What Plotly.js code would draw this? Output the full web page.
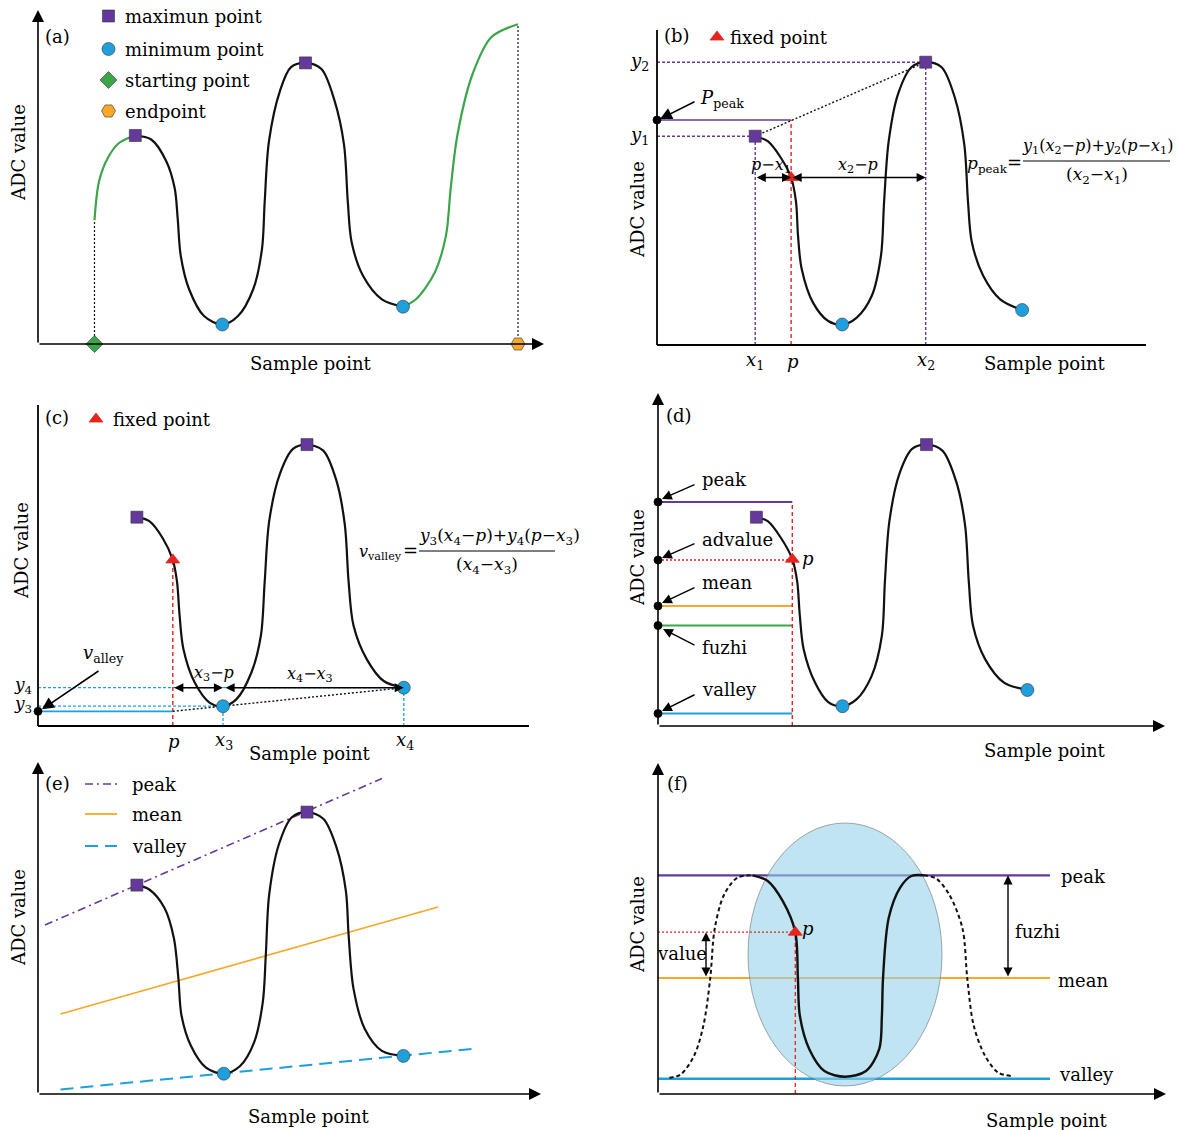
<!DOCTYPE html>
<html><head><meta charset="utf-8">
<script src="https://cdn.plot.ly/plotly-3.0.1.min.js"></script>
<style>html,body{margin:0;padding:0;background:#fff}</style>
</head><body>
<div id="chart" style="width:1179px;height:1130px"></div>
<script>
// ===== DATA (panel units: sample offset right of the y axis, ADC offset above the x axis) =====
// (a)
const aRiseX = [56.5, 61, 69.8, 81, 97.3];
const aRiseY = [123.8, 162.4, 186, 201, 208.5];
const aWaveX = [97.3,113.2,128.4,136.7,139.7,142.7,151,166,184.3,200,215.3,224,226.7,231,242,253,267.5,283.4,296.6,306,309.8,313.6,325,343.9,365];
const aWaveY = [208.5,204.5,182.6,155.7,125.4,88.5,55,28,19.5,28,55,95.2,142.3,203,253.2,276.8,281.1,275,243.1,199.4,142.3,102,68.3,44.7,37.3];
const aTailX = [365,377.9,396.8,408,412.7,419.5,434.6,453.5,480];
const aTailY = [37.3,44.7,71.6,108.6,155.7,209.5,270,307,319.8];
const aMaxX = [97.3, 267.5], aMaxY = [208.5, 281.1];
const aMinX = [184.3, 365], aMinY = [19.5, 37.3];
const aStartX = 56.5, aStartY = 123.8, aEndX = 480, aEndY = 319.8;
const aLegend = ['maximun point', 'minimum point', 'starting point', 'endpoint'];

// (b)
const bWaveX = [98.2,110.7,124,134.1,139,141,144.7,156,171.2,185.2,199.5,214.7,224,227.1,231.7,241,254.4,268.7,284.6,297.8,307.3,311,314.8,326.2,343.2,365.1];
const bWaveY = [208.8,203.8,187,167.5,143.3,109.6,76,42.4,24,20.5,27.2,49,89.5,143.3,203.8,250.9,277.8,282.8,277.8,247.5,200.4,143.3,103,69.3,45.7,35];
const bX1 = 98.2, bY1 = 208.8, bX2 = 268.7, bY2 = 282.8;
const bP = 134.1, bPy = 167.5, bPeak = 225;
const bMinX = [185.2, 365.1], bMinY = [20.5, 35];

// (c)
const cWaveX = [98.9,111.3,124.6,134.8,139,141.6,145.4,156.7,171.8,185,198.3,213.4,222.9,226.7,231.2,241.8,255,269,285.3,298.5,306.8,310.6,315.5,328.7,345.7,365.8];
const cWaveY = [208.8,204.8,188,166.1,144.3,110.6,77,43.4,23.2,19.8,26.6,53.5,90.5,144.3,204.8,251.9,277.1,281.4,275.4,245.1,201.4,144.3,100.5,66.9,45,38.3];
const cX3 = 185, cY3 = 19.8, cX4 = 365.8, cY4 = 38.3;
const cP = 134.8, cPy = 166.1, cValley = 14.7;
const cMaxX = [98.9, 269], cMaxY = [208.8, 281.4];

// (d)
const dWaveX = [98.4,109.7,123,134.3,139.2,141.8,145.6,157,170.2,184.5,198.5,213.7,223.9,226.9,231.4,241.3,254.1,268.5,284.4,298,307,310.8,315,327.1,346,369.4];
const dWaveY = [208.8,204.8,188,166.8,144.3,110.6,77,43.4,23.9,19.8,26.6,50.1,90.5,144.3,204.8,251.9,277.1,281.4,275.4,245.1,201.4,144.3,100.5,66.9,43.4,36];
const dP = 134.3, dPy = 166.8;
const dLevelNames = ['peak', 'advalue', 'mean', 'fuzhi', 'valley'];
const dLevelY = [224, 166, 120, 100.5, 12.5];
const dMaxX = [98.4, 268.5], dMaxY = [208.8, 281.4];
const dMinX = [184.5, 369.4], dMinY = [19.8, 36];

// (e)
const eWaveX = [98.9,111.3,126.5,135.9,140.4,143.5,152.9,168,185.8,202.1,216.1,224.8,227.8,231.2,241,253.9,269,285.3,298.5,307.9,310.6,315.5,326.8,343.9,365.4];
const eWaveY = [208.9,204.5,186,155.8,115.4,78.5,48.2,26.3,20.3,28,51.6,91.9,139,199.5,250,276.8,281.9,275.2,246.6,202.9,159.2,105.4,65,43.1,38.1];
const eMaxX = [98.9, 269], eMaxY = [208.9, 281.9];
const eMinX = [185.8, 365.4], eMinY = [20.3, 38.1];
const ePeakX = [7, 344], ePeakY = [169, 315.5];
const eMeanX = [22.5, 400], eMeanY = [80, 187];
const eValleyX = [22.5, 438], eValleyY = [4.5, 45.5];
const eLegend = ['peak', 'mean', 'valley'];

// (f)
const fLeftX = [11.4,22.7,36,45.4,52.2,56.8,66.2,79.4,94.6];
const fLeftY = [16.2,19.6,38.1,68.4,115.4,165.9,199.5,216.3,218.7];
const fMainX = [94.6,109.7,124.8,137.3,139.9,141.8,151.3,166.4,187.2,208,221.2,223.9,225,230.7,242,253.4,265.8];
const fMainY = [218.7,213,192.8,161.8,115.4,78.5,44.8,23,17.3,23,44.8,78.5,115.4,176,206.2,218,218.7];
const fRightX = [265.8,278,291.2,304.4,309.3,315.7,327.1,340.3,353.5];
const fRightY = [218.7,215.6,199.5,165.9,115.4,68.4,38.1,21.3,18];
const fPeak = 218.7, fMean = 116, fValley = 15.2, fLineEnd = 392;
const fPx = 137.3, fPy = 161.8;
const fZone = {cx: 187, cy: 139.5, rx: 97, ry: 131.5};

// ===== STYLE / LAYOUT =====
const W = 1179, H = 1130;
const FONT = 'DejaVu Serif';
const INK = '#000000', BLACK = '#111111', PURPLE = '#65399b', BLUE = '#1f9fdb', GREEN = '#3ba54a', ORANGE = '#f6a928', RED = '#e5231f';
const P = {
  a: {n: '',  cell: [0, 0, 590, 380],      o: [38, 344]},
  b: {n: '2', cell: [590, 0, 1179, 380],   o: [657, 345]},
  c: {n: '3', cell: [0, 380, 590, 760],    o: [38, 726]},
  d: {n: '4', cell: [590, 380, 1179, 760], o: [658, 726]},
  e: {n: '5', cell: [0, 760, 590, 1130],   o: [38, 1094]},
  f: {n: '6', cell: [590, 760, 1179, 1130],o: [658, 1094]}
};
const layout = {width: W, height: H, margin: {l: 0, r: 0, t: 0, b: 0}, paper_bgcolor: '#fff',
  plot_bgcolor: 'rgba(0,0,0,0)', showlegend: false, shapes: [], annotations: []};
for (const k in P) {
  const p = P[k], [x0, y0, x1, y1] = p.cell, [ox, oy] = p.o;
  layout['xaxis' + p.n] = {domain: [x0 / W, x1 / W], range: [x0 - ox, x1 - ox], visible: false, fixedrange: true, anchor: 'y' + p.n};
  layout['yaxis' + p.n] = {domain: [1 - y1 / H, 1 - y0 / H], range: [oy - y1, oy - y0], visible: false, fixedrange: true, anchor: 'x' + p.n};
}
const traces = [];
function line(k, x, y, color, width, dash, spline) {
  traces.push({type: 'scatter', mode: 'lines', x, y, xaxis: 'x' + P[k].n, yaxis: 'y' + P[k].n,
    line: {color, width, dash: dash || 'solid', shape: spline ? 'spline' : 'linear', smoothing: spline ? 0.9 : undefined},
    hoverinfo: 'skip', cliponaxis: false});
}
function marks(k, x, y, symbol, color, size, edge) {
  traces.push({type: 'scatter', mode: 'markers', x, y, xaxis: 'x' + P[k].n, yaxis: 'y' + P[k].n,
    marker: {symbol, color, size, line: {color: edge || 'rgba(50,50,50,0.75)', width: 0.8}},
    hoverinfo: 'skip', cliponaxis: false});
}
function text(k, x, y, t, o) {
  o = o || {};
  layout.annotations.push({xref: 'x' + P[k].n, yref: 'y' + P[k].n, x, y, text: t, showarrow: false,
    xanchor: o.xa || 'center', yanchor: o.ya || 'middle', textangle: o.angle || 0,
    font: {family: FONT, size: o.size || 18, color: o.color || INK}});
}
function arrow(k, x, y, ax, ay, o) {
  o = o || {};
  const n = P[k].n;
  layout.annotations.push({xref: 'x' + n, yref: 'y' + n, axref: 'x' + n, ayref: 'y' + n, x, y, ax, ay,
    text: '', showarrow: true, arrowhead: 2, arrowsize: o.size || 1.5, arrowwidth: o.width || 1.6,
    arrowcolor: '#000', arrowside: o.both ? 'end+start' : 'end', startarrowhead: 2,
    startarrowsize: o.size || 1.5, standoff: 0, startstandoff: 0});
}
function seg(k, x0, y0, x1, y1, color, width, dash, layer) {
  layout.shapes.push({type: 'line', xref: 'x' + P[k].n, yref: 'y' + P[k].n, x0, y0, x1, y1,
    line: {color, width, dash: dash || 'solid'}, layer: layer || 'above'});
}
const I = s => '<i>' + s + '</i>';
const SUB = s => '<sub>' + s + '</sub>';

// ===== (a) =====
arrow('a', 0, 334, 0, 0); arrow('a', 506, 0, 0, 0);
line('a', [aStartX, aStartX], [0, aStartY], BLACK, 1.2, '2px,2px');
line('a', [aEndX, aEndX], [0, aEndY], BLACK, 1.2, '2px,2px');
line('a', aRiseX, aRiseY, GREEN, 2.2, null, true);
line('a', aWaveX, aWaveY, BLACK, 2.2, null, true);
line('a', aTailX, aTailY, GREEN, 2.2, null, true);
marks('a', aMaxX, aMaxY, 'square', PURPLE, 12);
marks('a', aMinX, aMinY, 'circle', BLUE, 13);
marks('a', [aStartX], [0], 'diamond', GREEN, 13);
marks('a', [aEndX], [0], 'hexagon2', ORANGE, 14);
const aLegY = [328, 295, 264, 233];
marks('a', [70.5], [aLegY[0]], 'square', PURPLE, 12);
marks('a', [70.5], [aLegY[1]], 'circle', BLUE, 13);
marks('a', [70.5], [aLegY[2]], 'diamond', GREEN, 13);
marks('a', [70.5], [aLegY[3]], 'hexagon2', ORANGE, 14);
aLegend.forEach((t, i) => text('a', 85, aLegY[i], t, {xa: 'left'}));
text('a', 19, 308, '(a)');
text('a', 272, -19, 'Sample point');
text('a', -20, 191, 'ADC value', {angle: -90});

// ===== (b) =====
seg('b', 0, 0, 0, 315, '#000', 1.8); seg('b', 0, 0, 489, 0, '#000', 1.8);
line('b', [0, bX2], [bY2, bY2], PURPLE, 1.4, '3px,2px');
line('b', [0, bX1], [bY1, bY1], PURPLE, 1.4, '3px,2px');
line('b', [bX1, bX1], [0, bY1], PURPLE, 1.4, '3px,2px');
line('b', [bX2, bX2], [0, bY2], PURPLE, 1.4, '3px,2px');
line('b', [bP, bP], [0, bPeak], RED, 1.4, '4px,3px');
line('b', [0, bP], [bPeak, bPeak], PURPLE, 1.6);
line('b', [bX1, bX2], [bY1, bY2], BLACK, 1.4, '2px,2px');
line('b', bWaveX, bWaveY, BLACK, 2.2, null, true);
arrow('b', bP, bPy, bX1, bPy, {both: true, size: 1.3, width: 1.4});
arrow('b', bX2, bPy, bP, bPy, {both: true, size: 1.3, width: 1.4});
marks('b', [bX1, bX2], [bY1, bY2], 'square', PURPLE, 12);
marks('b', bMinX, bMinY, 'circle', BLUE, 13);
marks('b', [bP], [bPy], 'triangle-up', RED, 12, RED);
marks('b', [0], [bPeak], 'circle', '#000', 8, '#000');
marks('b', [60], [308], 'triangle-up', RED, 12, RED);
text('b', 71, 308, 'fixed point', {xa: 'left'});
text('b', 20, 310, '(b)');
text('b', -18, 283, I('y') + SUB('2'));
text('b', -18, 209, I('y') + SUB('1'));
text('b', bX1, -16, I('x') + SUB('1'));
text('b', bP + 2, -16, I('p'));
text('b', bX2, -16, I('x') + SUB('2'));
text('b', 387, -18, 'Sample point');
text('b', -20, 135, 'ADC value', {angle: -90});
arrow('b', 3, bPeak + 1, 39, 244);
text('b', 41, 246, I('P') + SUB('peak'), {xa: 'left'});
text('b', 114, 180, I('p') + '−' + I('x') + SUB('1'), {size: 16});
text('b', 201, 180, I('x') + SUB('2') + '−' + I('p'), {size: 16});
text('b', 308, 181, I('p') + SUB('peak'), {xa: 'left', size: 17});
text('b', 357, 183, '=');
text('b', 440, 199, I('y') + SUB('1') + '(' + I('x') + SUB('2') + '−' + I('p') + ')+' + I('y') + SUB('2') + '(' + I('p') + '−' + I('x') + SUB('1') + ')', {size: 16});
seg('b', 366, 184, 513, 184, '#000', 1);
text('b', 440, 170, '(' + I('x') + SUB('2') + '−' + I('x') + SUB('1') + ')', {size: 17});

// ===== (c) =====
seg('c', 0, 0, 0, 321, '#000', 1.8); seg('c', 0, 0, 491, 0, '#000', 1.8);
line('c', [0, cX4], [cY4, cY4], BLUE, 1.3, '3px,2px');
line('c', [0, cX3], [cY3, cY3], BLUE, 1.3, '3px,2px');
line('c', [cX3, cX3], [0, cY3], BLUE, 1.3, '3px,2px');
line('c', [cX4, cX4], [0, cY4], BLUE, 1.3, '3px,2px');
line('c', [cP, cP], [0, cPy], RED, 1.4, '4px,3px');
line('c', [0, cP], [cValley, cValley], BLUE, 1.8);
line('c', [cP, cX4], [cValley, cY4], BLACK, 1.4, '2px,2px');
line('c', cWaveX, cWaveY, BLACK, 2.2, null, true);
arrow('c', cX3, cY4, cP, cY4, {both: true, size: 1.3, width: 1.4});
arrow('c', cX4, cY4, cX3 + 1, cY4, {both: true, size: 1.3, width: 1.4});
marks('c', cMaxX, cMaxY, 'square', PURPLE, 12);
marks('c', [cX3, cX4], [cY3, cY4], 'circle', BLUE, 13);
marks('c', [cP], [cPy], 'triangle-up', RED, 12, RED);
marks('c', [0], [cValley], 'circle', '#000', 8, '#000');
marks('c', [58], [307], 'triangle-up', RED, 12, RED);
text('c', 73, 307, 'fixed point', {xa: 'left'});
text('c', 19, 309, '(c)');
text('c', -15, 41, I('y') + SUB('4'), {size: 17});
text('c', -15, 22, I('y') + SUB('3'), {size: 17});
text('c', cP + 1, -15, I('p'));
text('c', cX3 + 1, -15, I('x') + SUB('3'));
text('c', cX4 + 1, -15, I('x') + SUB('4'));
text('c', 271, -27, 'Sample point');
text('c', -17, 175, 'ADC value', {angle: -90});
arrow('c', 4, cValley + 2, 62, 56);
text('c', 43, 72, I('v') + SUB('alley'), {xa: 'left'});
text('c', 176, 53, I('x') + SUB('3') + '−' + I('p'), {size: 16});
text('c', 272, 52, I('x') + SUB('4') + '−' + I('x') + SUB('3'), {size: 16});
text('c', 319, 174, I('v') + SUB('valley'), {xa: 'left', size: 16});
text('c', 372, 176, '=');
text('c', 461, 190, I('y') + SUB('3') + '(' + I('x') + SUB('4') + '−' + I('p') + ')+' + I('y') + SUB('4') + '(' + I('p') + '−' + I('x') + SUB('3') + ')', {size: 17});
seg('c', 381, 175, 517, 175, '#000', 1);
text('c', 449, 161, '(' + I('x') + SUB('4') + '−' + I('x') + SUB('3') + ')', {size: 17});

// ===== (d) =====
arrow('d', 0, 333, 0, 0); arrow('d', 507, 0, 0, 0);
const dStyles = [[PURPLE, 2, 'solid'], [RED, 1.4, '2px,2px'], [ORANGE, 2, 'solid'], [GREEN, 2, 'solid'], [BLUE, 2.2, 'solid']];
dLevelY.forEach((y, i) => line('d', [0, dP], [y, y], dStyles[i][0], dStyles[i][1], dStyles[i][2]));
line('d', [dP, dP], [0, dLevelY[0]], RED, 1.4, '4px,3px');
line('d', dWaveX, dWaveY, BLACK, 2.2, null, true);
marks('d', dMaxX, dMaxY, 'square', PURPLE, 12);
marks('d', dMinX, dMinY, 'circle', BLUE, 13);
marks('d', [dP], [dPy], 'triangle-up', RED, 12, RED);
marks('d', dLevelY.map(() => 0), dLevelY, 'circle', '#000', 8, '#000');
const dLabelY = [247, 187, 144, 79, 37];
const dArrowTail = [[38, 242], [38, 183], [38, 139], [38, 80], [38, 32]];
const dArrowHead = [[4, 227], [4, 168], [4, 123], [5, 97], [4, 15]];
dLevelNames.forEach((t, i) => {
  arrow('d', dArrowHead[i][0], dArrowHead[i][1], dArrowTail[i][0], dArrowTail[i][1], {size: 1.4, width: 1.4});
  text('d', 42, dLabelY[i], t, {xa: 'left'});
});
text('d', 149.5, 168, I('p'));
text('d', 21, 311, '(d)');
text('d', 386, -24, 'Sample point');
text('d', -21, 168, 'ADC value', {angle: -90});

// ===== (e) =====
arrow('e', 0, 332, 0, 0); arrow('e', 503, 0, 0, 0);
line('e', ePeakX, ePeakY, PURPLE, 1.6, '8px,4px,2px,4px');
line('e', eMeanX, eMeanY, ORANGE, 1.8);
line('e', eValleyX, eValleyY, BLUE, 2, '13px,7px');
line('e', eWaveX, eWaveY, BLACK, 2.2, null, true);
marks('e', eMaxX, eMaxY, 'square', PURPLE, 12);
marks('e', eMinX, eMinY, 'circle', BLUE, 13);
const eLegY = [310, 280, 248];
line('e', [47, 79], [eLegY[0], eLegY[0]], PURPLE, 1.6, '8px,4px,2px,4px');
line('e', [47, 79], [eLegY[1], eLegY[1]], ORANGE, 1.8);
line('e', [47, 79], [eLegY[2], eLegY[2]], BLUE, 2, '13px,7px');
eLegend.forEach((t, i) => text('e', 92, eLegY[i], t, {xa: 'left'}));
text('e', 19, 310.5, '(e)');
text('e', 270, -22, 'Sample point');
text('e', -20, 176, 'ADC value', {angle: -90});

// ===== (f) =====
arrow('f', 0, 331, 0, 0); arrow('f', 508, 0, 0, 0);
seg('f', 0, fPeak, fLineEnd, fPeak, PURPLE, 2.2, 'solid', 'below');
seg('f', 0, fMean, fLineEnd, fMean, ORANGE, 2.2, 'solid', 'below');
seg('f', 0, fValley, fLineEnd, fValley, BLUE, 2.5, 'solid', 'below');
layout.shapes.push({type: 'circle', xref: 'x6', yref: 'y6', layer: 'below',
  x0: fZone.cx - fZone.rx, x1: fZone.cx + fZone.rx, y0: fZone.cy - fZone.ry, y1: fZone.cy + fZone.ry,
  fillcolor: 'rgba(150,210,232,0.6)', line: {color: 'rgba(110,120,125,0.8)', width: 0.8}});
line('f', [0, fPx], [fPy, fPy], RED, 1.3, '2px,2px');
line('f', [fPx, fPx], [0, fPy], RED, 1.3, '4px,3px');
line('f', fLeftX, fLeftY, BLACK, 2, '4px,3px', true);
line('f', fMainX, fMainY, BLACK, 2.4, null, true);
line('f', fRightX, fRightY, BLACK, 2, '4px,3px', true);
marks('f', [fPx], [fPy], 'triangle-up', RED, 12, RED);
arrow('f', 350, fPeak, 350, fMean, {both: true, size: 1.3, width: 1.4});
arrow('f', 48, fPy, 48, fMean, {both: true, size: 1.3, width: 1.4});
text('f', 401, 218, 'peak', {xa: 'left'});
text('f', 398, 114, 'mean', {xa: 'left'});
text('f', 399, 20, 'valley', {xa: 'left'});
text('f', 355, 162.5, 'fuzhi', {xa: 'left'});
text('f', 23.5, 141, 'value');
text('f', 149.5, 166, I('p'));
text('f', 19, 310.5, '(f)');
text('f', 388, -26, 'Sample point');
text('f', -21, 169, 'ADC value', {angle: -90});

Plotly.newPlot('chart', traces, layout, {staticPlot: true, displayModeBar: false});
</script>
</body></html>
